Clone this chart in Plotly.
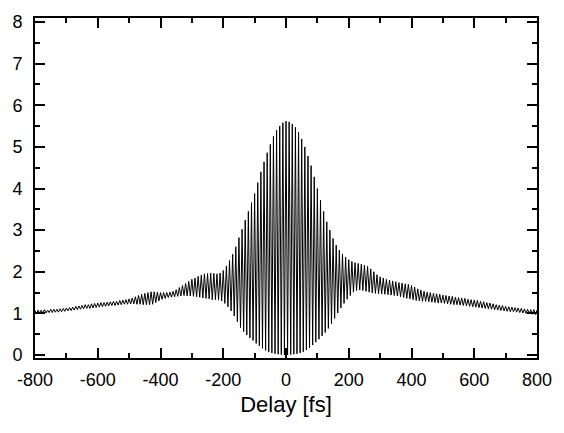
import plotly.graph_objects as go

# Fringe peaks (upper envelope) read every 10 fs, from -800 to 800 fs
peak_delays = list(range(-800, 801, 10))
peak_values = [
    1.07, 1.08, 1.08, 1.09, 1.08, 1.10, 1.10, 1.10, 1.11, 1.12,
    1.13, 1.14, 1.15, 1.17, 1.18, 1.19, 1.21, 1.21, 1.23, 1.24,
    1.25, 1.26, 1.26, 1.27, 1.28, 1.29, 1.29, 1.31, 1.32, 1.33,
    1.35, 1.37, 1.40, 1.43, 1.46, 1.48, 1.50, 1.52, 1.52, 1.51,
    1.50, 1.50, 1.50, 1.51, 1.53, 1.57, 1.62, 1.67, 1.72, 1.77,
    1.82, 1.85, 1.89, 1.92, 1.95, 1.96, 1.97, 1.96, 1.95, 1.97,
    2.03, 2.14, 2.27, 2.42, 2.60, 2.82, 3.02, 3.24, 3.45, 3.66,
    3.88, 4.14, 4.40, 4.64, 4.86, 5.06, 5.25, 5.40, 5.50, 5.58,
    5.62, 5.60, 5.55, 5.47, 5.35, 5.19, 5.00, 4.78, 4.55, 4.28,
    4.00, 3.72, 3.45, 3.20, 3.00, 2.80, 2.64, 2.52, 2.43, 2.35,
    2.29, 2.25, 2.22, 2.20, 2.18, 2.16, 2.13, 2.07, 2.00, 1.93,
    1.88, 1.85, 1.82, 1.80, 1.78, 1.76, 1.74, 1.73, 1.71, 1.70,
    1.67, 1.63, 1.59, 1.56, 1.53, 1.51, 1.50, 1.48, 1.47, 1.46,
    1.44, 1.43, 1.42, 1.41, 1.39, 1.38, 1.37, 1.36, 1.34, 1.33,
    1.32, 1.31, 1.29, 1.28, 1.26, 1.25, 1.23, 1.21, 1.20, 1.19,
    1.17, 1.16, 1.15, 1.14, 1.13, 1.12, 1.11, 1.10, 1.09, 1.09,
    1.08,
]

# Fringe troughs (lower envelope) read every 10 fs, from -795 to 795 fs
trough_delays = list(range(-795, 796, 10))
trough_values = [
    0.99, 1.00, 1.00, 1.01, 1.02, 1.02, 1.03, 1.03, 1.04, 1.05,
    1.06, 1.07, 1.08, 1.09, 1.10, 1.11, 1.12, 1.12, 1.13, 1.14,
    1.15, 1.16, 1.17, 1.18, 1.19, 1.19, 1.20, 1.21, 1.22, 1.22,
    1.23, 1.23, 1.22, 1.22, 1.21, 1.21, 1.21, 1.22, 1.26, 1.30,
    1.34, 1.36, 1.38, 1.39, 1.40, 1.41, 1.42, 1.43, 1.42, 1.42,
    1.41, 1.40, 1.39, 1.37, 1.36, 1.35, 1.33, 1.33, 1.32, 1.30,
    1.24, 1.16, 1.06, 0.94, 0.80, 0.66, 0.56, 0.48, 0.41, 0.35,
    0.28, 0.22, 0.16, 0.11, 0.07, 0.05, 0.03, 0.02, 0.01, 0.00,
    0.00, 0.01, 0.02, 0.03, 0.05, 0.08, 0.12, 0.17, 0.24, 0.31,
    0.38, 0.46, 0.54, 0.64, 0.75, 0.88, 1.01, 1.13, 1.24, 1.34,
    1.43, 1.51, 1.55, 1.56, 1.55, 1.53, 1.51, 1.49, 1.48, 1.47,
    1.47, 1.46, 1.45, 1.44, 1.43, 1.42, 1.40, 1.38, 1.36, 1.35,
    1.33, 1.31, 1.30, 1.29, 1.29, 1.28, 1.27, 1.26, 1.25, 1.25,
    1.24, 1.23, 1.22, 1.21, 1.21, 1.20, 1.19, 1.18, 1.17, 1.16,
    1.15, 1.14, 1.13, 1.12, 1.11, 1.10, 1.09, 1.08, 1.07, 1.06,
    1.05, 1.04, 1.04, 1.03, 1.02, 1.01, 1.00, 0.99, 0.98, 0.97,
]

x_tick_vals = [-800, -600, -400, -200, 0, 200, 400, 600, 800]
x_tick_text = ["-800", "-600", "-400", "-200", "0", "200", "400", "600", "800"]
y_tick_vals = [0, 1, 2, 3, 4, 5, 6, 7, 8]

# interleave peaks and troughs into one fringe trace
pts = sorted(list(zip(peak_delays, peak_values)) + list(zip(trough_delays, trough_values)))
xs = [p[0] for p in pts]
ys = [p[1] for p in pts]

fig = go.Figure()
fig.add_trace(go.Scatter(x=xs, y=ys, mode="lines",
                         line=dict(color="black", width=1), showlegend=False))

font = dict(family="Liberation Sans, Arial, Helvetica, sans-serif", size=18, color="black")

axis_common = dict(
    showline=True, linewidth=2, linecolor="black", mirror="allticks",
    ticks="inside", ticklen=10, tickwidth=2, tickcolor="black",
    showgrid=False, zeroline=False, tickfont=font,
)

fig.update_layout(
    width=564, height=433,
    margin=dict(l=31, r=19, t=15, b=75),
    paper_bgcolor="white", plot_bgcolor="white",
    font=font,
    xaxis=dict(range=[-800, 800], tickvals=x_tick_vals, ticktext=x_tick_text,
               minor=dict(dtick=100, ticks="inside", ticklen=5, tickwidth=2, tickcolor="black"),
               ticklabelstandoff=4,
               title=dict(text="Delay [fs]", font=dict(family=font["family"], size=22, color="black"),
                          standoff=8),
               **axis_common),
    yaxis=dict(range=[-0.071, 8.095], tickvals=y_tick_vals,
               minor=dict(dtick=0.5, ticks="inside", ticklen=5, tickwidth=2, tickcolor="black"),
               ticklabelstandoff=7,
               **axis_common),
)

fig.write_html("out.html")
